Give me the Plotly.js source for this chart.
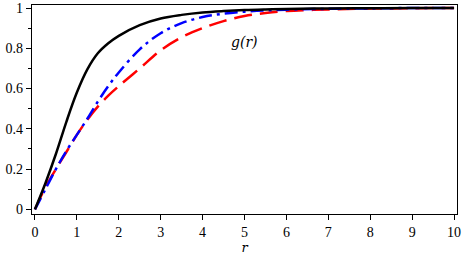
<!DOCTYPE html>
<html><head><meta charset="utf-8">
<script src="https://cdn.plot.ly/plotly-3.0.1.min.js"></script>
<style>
body{margin:0;padding:0;background:#fff}
#plot{width:463px;height:255px}
</style>
</head><body><div id="plot"></div><div id="tail"></div>
<script>
const r = [0,0.25,0.5,0.75,1,1.25,1.5,1.75,2,2.5,3,3.5,4,4.5,5,5.5,6,7,8,9,10];
const gBlack = [0,0.13,0.275,0.435,0.58,0.695,0.775,0.825,0.862,0.915,0.948,0.966,0.978,0.985,0.99,0.993,0.995,0.998,0.999,1,1];
const gBlue  = [0,0.10,0.20,0.29,0.37,0.45,0.535,0.612,0.68,0.795,0.875,0.925,0.955,0.972,0.982,0.988,0.992,0.996,0.998,1,1];
const gRed   = [0,0.11,0.20,0.285,0.37,0.445,0.51,0.565,0.612,0.70,0.79,0.855,0.90,0.935,0.96,0.975,0.985,0.993,0.997,0.999,1];
const xTicks = [0,1,2,3,4,5,6,7,8,9,10];
const yTicks = [0,0.2,0.4,0.6,0.8,1];
const yTickText = ['0','0.2','0.4','0.6','0.8','1'];

const fam = 'Liberation Serif';
const famIt = 'DejaVu Serif';
const traces = [
  {x:r, y:gRed, mode:'lines', line:{color:'#ff0000', width:2.5, dash:'18px,8px', shape:'spline'}},
  {x:r, y:gBlue, mode:'lines', line:{color:'#0000ff', width:2.5, dash:'13px,5px,3px,5px', shape:'spline'}},
  {x:r, y:gBlack, mode:'lines', line:{color:'#000000', width:2.5, shape:'spline'}}
];
const layout = {
  width:463, height:255,
  margin:{l:32, r:6, t:5, b:41},
  showlegend:false,
  font:{family:fam, size:14, color:'#000'},
  xaxis:{range:[-0.07,10.07], tickvals:xTicks, ticks:'outside', ticklen:5, tickwidth:1, tickcolor:'#000',
         showline:true, linecolor:'#000', linewidth:1.2, mirror:true, showgrid:false, zeroline:false,
         tickfont:{family:fam, size:14, color:'#000'},
         title:{text:'r', font:{family:famIt, size:13, color:'#000', style:'italic'}, standoff:4}},
  yaxis:{range:[-0.023,1.015], tickvals:yTicks, ticktext:yTickText, ticks:'outside', ticklen:5, tickwidth:1, tickcolor:'#000',
         ticklabeloverflow:'allow',
         minor:{dtick:0.1, tick0:0, ticks:'outside', ticklen:3, tickcolor:'#000', showgrid:false},
         showline:true, linecolor:'#000', linewidth:1.2, mirror:true, showgrid:false, zeroline:false,
         tickfont:{family:fam, size:14, color:'#000'}},
  annotations:[{x:5.0, y:0.83, xref:'x', yref:'y', text:'g(r)', showarrow:false,
                font:{family:famIt, size:14, color:'#000', style:'italic'}}]
};

Plotly.newPlot('plot', traces, layout, {staticPlot:true, displayModeBar:false}).then(gd => {
  document.getElementById('tail').setAttribute('data-v', Plotly.version);
});
</script></body></html>
